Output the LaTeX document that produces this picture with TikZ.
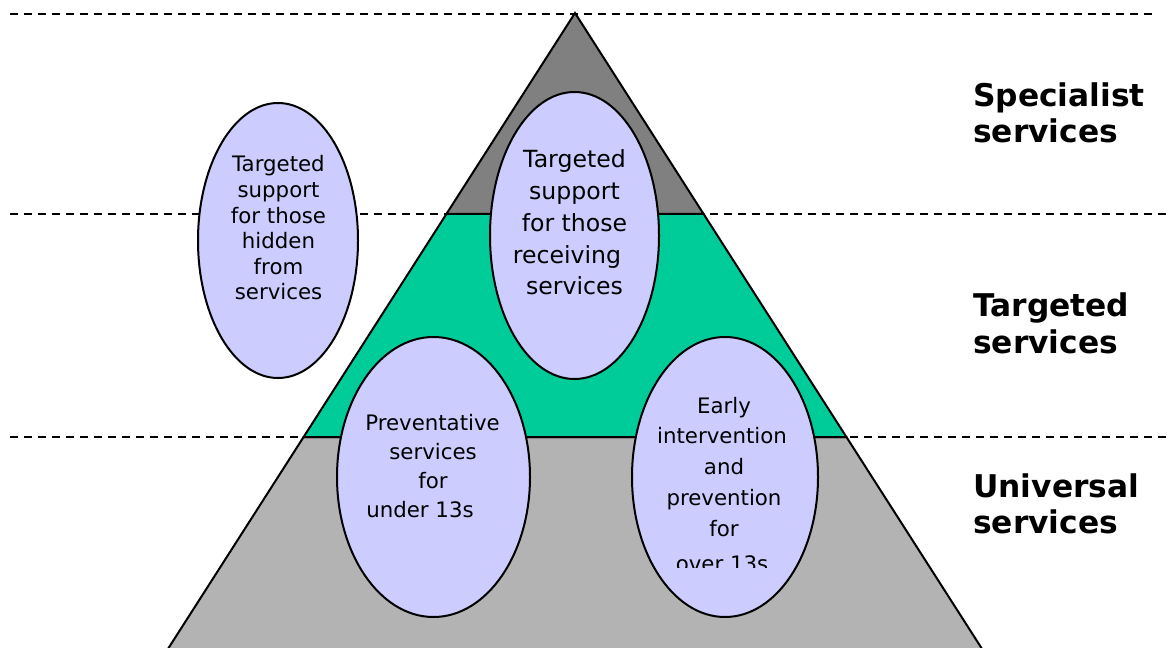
\documentclass[tikz,border=0pt]{standalone}
\usepackage{fontspec}
\setmainfont{DejaVu Sans}
\usetikzlibrary{shapes.geometric}
\definecolor{topgray}{HTML}{808080}
\definecolor{midgreen}{HTML}{00CC99}
\definecolor{botgray}{HTML}{B3B3B3}
\definecolor{ellfill}{HTML}{CCCCFF}
\begin{document}
\begin{tikzpicture}[x=1bp,y=-1bp,
  dashline/.style={draw=black,line width=1.8bp,dash pattern=on 8bp off 6bp},
  band/.style={draw=black,line width=2bp,line join=miter},
  ell/.style={ellipse,draw=black,fill=ellfill,line width=2bp,inner sep=0pt},
  tsmall/.style={font=\fontsize{21.3bp}{25bp}\selectfont,anchor=base,inner sep=0pt},
  tbig/.style={font=\fontsize{23.6bp}{28bp}\selectfont,anchor=base,inner sep=0pt},
  tlabel/.style={font=\fontsize{31.3bp}{36bp}\selectfont\bfseries,anchor=base west,inner sep=0pt}]
\clip (0,0) rectangle (1169,648);
\fill[white] (0,0) rectangle (1169,648);
% dashed level lines
\coordinate (d1a) at (10,14);  \coordinate (d1b) at (1152,14);
\coordinate (d2a) at (10,214); \coordinate (d2b) at (1167,214);
\coordinate (d3a) at (10,437); \coordinate (d3b) at (1167,437);
\draw[dashline] (d1a) -- (d1b);
\draw[dashline] (d2a) -- (d2b);
\draw[dashline] (d3a) -- (d3b);
% pyramid bands
\coordinate (apex) at (575,13);
\coordinate (l1) at (446.4,214); \coordinate (r1) at (703.6,214);
\coordinate (l2) at (303.6,437); \coordinate (r2) at (846.4,437);
\coordinate (l3) at (164.7,654); \coordinate (r3) at (985.3,654);
\filldraw[band,fill=botgray] (l2) -- (l3) -- (r3) -- (r2) -- cycle;
\filldraw[band,fill=midgreen] (l1) -- (l2) -- (r2) -- (r1) -- cycle;
\filldraw[band,fill=topgray] (apex) -- (l1) -- (r1) -- cycle;
% ellipses
\node[ell,minimum width=160bp,minimum height=275bp] (hidden) at (278,240.5) {};
\node[ell,minimum width=169bp,minimum height=287bp] (receiving) at (574.5,235.5) {};
\node[ell,minimum width=193bp,minimum height=280bp] (prevent) at (433.5,477) {};
\node[ell,minimum width=186bp,minimum height=280bp] (early) at (725,477) {};
% texts
\foreach \t [count=\i from 0] in {Targeted,support,for those,hidden,from,services}
  \node[tsmall,name=ht\i] at (278.5,172+25.6*\i) {\t};
\node[tbig] (rt0) at (574.5,168) {Targeted};
\node[tbig] (rt1) at (574.5,200) {support};
\node[tbig] (rt2) at (574.5,232) {for those};
\node[tbig] (rt3) at (567,263.5) {receiving};
\node[tbig] (rt4) at (574.5,295) {services};
\node[tsmall] (pt0) at (432.5,430) {Preventative};
\node[tsmall] (pt1) at (433,459.5) {services};
\node[tsmall] (pt2) at (433,488.5) {for};
\node[tsmall] (pt3) at (420,517) {under 13s};
\node[tsmall] (et0) at (724,413) {Early};
\node[tsmall] (et1) at (722,443) {intervention};
\node[tsmall] (et2) at (724,474) {and};
\node[tsmall] (et3) at (724,505) {prevention};
\node[tsmall] (et4) at (724,536) {for};
\begin{scope}
  \clip (600,300) rectangle (850,567);
  \node[tsmall] (et5) at (722,571) {over 13s};
\end{scope}
% level labels
\node[tlabel] (s1) at (973,107) {Specialist};
\node[tlabel] (s2) at (973,143) {services};
\node[tlabel] (t1) at (973,317) {Targeted};
\node[tlabel] (t2) at (973,353) {services};
\node[tlabel] (u1) at (973,497) {Universal};
\node[tlabel] (u2) at (973,533) {services};
\end{tikzpicture}
\end{document}
